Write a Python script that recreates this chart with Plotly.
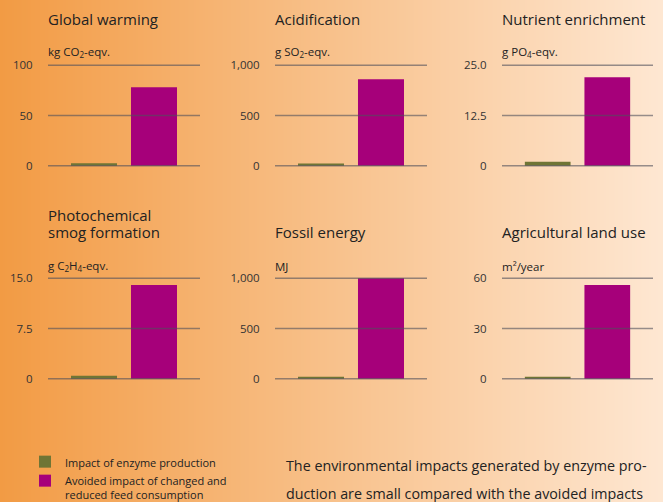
import base64
import struct
import zlib
import plotly.graph_objects as go

# ---------------- data ----------------
titles = ["Global warming", "Acidification", "Nutrient enrichment",
          "Photochemical<br>smog formation", "Fossil energy", "Agricultural land use"]
units = ["kg CO<sub>2</sub>-eqv.", "g SO<sub>2</sub>-eqv.", "g PO<sub>4</sub>-eqv.",
         "g C<sub>2</sub>H<sub>4</sub>-eqv.", "MJ", "m²/year"]
axis_max = [100, 1000, 25.0, 15.0, 1000, 60]
tick_vals = [[0, 50, 100], [0, 500, 1000], [0, 12.5, 25.0],
             [0, 7.5, 15.0], [0, 500, 1000], [0, 30, 60]]
tick_text = [["0", "50", "100"], ["0", "500", "1,000"], ["0", "12.5", "25.0"],
             ["0", "7.5", "15.0"], ["0", "500", "1,000"], ["0", "30", "60"]]
categories = ["enzyme", "avoided"]
series_names = ["Impact of enzyme production",
                "Avoided impact of changed and<br>reduced feed consumption"]
enzyme = [2.5, 22, 1.0, 0.45, 20, 1.2]
avoided = [78, 861, 22.0, 14.0, 1000, 56]
paragraph = ["The environmental impacts generated by enzyme pro-",
             "duction are small compared with the avoided impacts"]

# ---------------- style ----------------
W, H = 663, 502
GREEN = "#6F7535"
MAGENTA = "#A6007A"
FONT = "Open Sans"
TXT = "#222222"


def px_x(p):
    return p / W


def px_y(p):
    return 1 - p / H


def png_gradient(width, c0, c1):
    row = bytearray([0])
    for i in range(width):
        t = i / (width - 1)
        for k in range(3):
            row.append(int(round(c0[k] + (c1[k] - c0[k]) * t)))
    raw = bytes(row)

    def chunk(tag, data):
        c = struct.pack(">I", len(data)) + tag + data
        return c + struct.pack(">I", zlib.crc32(tag + data) & 0xFFFFFFFF)

    ihdr = struct.pack(">IIBBBBB", width, 1, 8, 2, 0, 0, 0)
    png = b"\x89PNG\r\n\x1a\n" + chunk(b"IHDR", ihdr) + chunk(b"IDAT", zlib.compress(raw)) + chunk(b"IEND", b"")
    return "data:image/png;base64," + base64.b64encode(png).decode()


bg = png_gradient(W, (242, 155, 68), (254, 231, 210))

col_px = [(48, 200), (275, 427), (502, 653)]
row_px = [(64, 167), (277, 380)]
title_center = [19, 232]
unit_center = [52, 266]
TITLE_LINE = 17

fig = go.Figure()
layout = dict(
    width=W, height=H, margin=dict(l=0, r=0, t=0, b=0, autoexpand=False),
    paper_bgcolor="#F8C290", plot_bgcolor="rgba(0,0,0,0)",
    barmode="overlay", showlegend=True,
    font=dict(family=FONT, color=TXT),
)
shapes = []
annotations = []

for i in range(6):
    r, c = divmod(i, 3)
    s = "" if i == 0 else str(i + 1)
    xa, ya = "x" + s, "y" + s
    m = axis_max[i]
    fig.add_trace(go.Bar(x=[categories[0]], y=[enzyme[i]], xaxis=xa, yaxis=ya,
                         marker=dict(color=GREEN, line=dict(width=0)), width=0.767,
                         name=series_names[0], legendgroup="g0", showlegend=(i == 0),
                         hoverinfo="y"))
    fig.add_trace(go.Bar(x=[categories[1]], y=[avoided[i]], xaxis=xa, yaxis=ya,
                         marker=dict(color=MAGENTA, line=dict(width=0)), width=0.767,
                         name=series_names[1], legendgroup="g1", showlegend=(i == 0),
                         hoverinfo="y"))
    layout["xaxis" + s] = dict(
        domain=[px_x(col_px[c][0]), px_x(col_px[c][1])], anchor=ya,
        type="category", categoryorder="array", categoryarray=categories,
        range=[-0.767, 1.767], visible=False, fixedrange=True)
    layout["yaxis" + s] = dict(
        domain=[px_y(row_px[r][1]), px_y(row_px[r][0])], anchor=xa,
        range=[-0.012 * m, 1.012 * m], tickvals=tick_vals[i], ticktext=tick_text[i],
        showgrid=False, zeroline=False, showline=False,
        ticks="outside", ticklen=12, tickcolor="rgba(0,0,0,0)",
        tickfont=dict(family=FONT, size=11.5, color="#333333"), fixedrange=True)
    for v in tick_vals[i]:
        shapes.append(dict(type="line", xref=xa + " domain", yref=ya, x0=0, x1=1, y0=v, y1=v,
                           line=dict(color="rgba(80,80,92,0.6)", width=1.6), layer="above"))
    lines = titles[i].split("<br>")
    n = len(lines)
    for j, ln in enumerate(lines):
        yc = title_center[r] - (n - 1 - j) * TITLE_LINE
        annotations.append(dict(text=ln, xref=xa + " domain", yref="paper", x=0, xanchor="left",
                                y=px_y(yc), yanchor="middle", showarrow=False, align="left",
                                font=dict(family=FONT, size=15, color=TXT), xshift=-2))
    annotations.append(dict(text=units[i], xref=xa + " domain", yref="paper", x=0, xanchor="left",
                            y=px_y(unit_center[r]), yanchor="middle", showarrow=False,
                            font=dict(family=FONT, size=11.5, color=TXT), xshift=-2))

for k, line in enumerate(paragraph):
    annotations.append(dict(text=line, xref="paper", yref="paper", x=px_x(284), xanchor="left",
                            y=px_y(465 + 28 * k), yanchor="middle", showarrow=False,
                            font=dict(family=FONT, size=14.3, color=TXT)))

layout["shapes"] = shapes
layout["annotations"] = annotations
layout["images"] = [dict(source=bg, xref="paper", yref="paper", x=0, y=1, sizex=1, sizey=1,
                         xanchor="left", yanchor="top", sizing="stretch", layer="below")]
layout["legend"] = dict(x=px_x(25), y=px_y(448), xanchor="left", yanchor="top",
                        bgcolor="rgba(0,0,0,0)", font=dict(family=FONT, size=11, color=TXT),
                        tracegroupgap=0, valign="top", itemclick=False)
fig.update_layout(**layout)
fig.write_html("out.html")
